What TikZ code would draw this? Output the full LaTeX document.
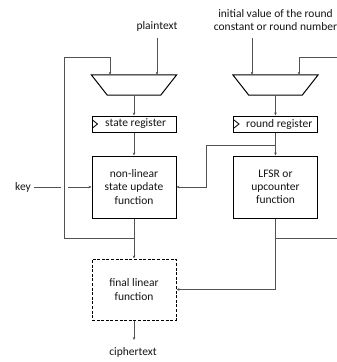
\documentclass[tikz,border=0pt]{standalone}
\usepackage{fontspec}
\setmainfont{Carlito}
\usetikzlibrary{arrows.meta}
\begin{document}
\begin{tikzpicture}[x=1pt,y=-1pt,
  font=\fontsize{11.5}{13.3}\selectfont,
  txt/.style={text=black!92, inner sep=0pt},
  blk/.style={draw=black, line width=1pt, minimum width=84pt, minimum height=62pt, inner sep=0pt, align=center, text=black!92},
  regbox/.style={draw=black, line width=1pt, minimum width=84pt, minimum height=16pt, inner sep=0pt},
  muxbox/.style={minimum width=85pt, minimum height=20pt, inner sep=0pt},
  conn/.style={draw=black!68, line width=0.8pt},
  arr/.style={conn, -{Stealth[length=3pt,width=2.6pt]}},
  clk/.style={draw=black, line width=0.8pt},
]
\useasboundingbox (0,0) rectangle (337,362);

% multiplexers
\node[muxbox] (muxL) at (134,85) {};
\node[muxbox] (muxR) at (275.5,85) {};
\foreach \m in {muxL,muxR}
  \draw[line width=1pt] (\m.north west) -- (\m.north east) -- ([xshift=-16pt]\m.south east) -- ([xshift=16pt]\m.south west) -- cycle;

% registers
\node[regbox] (sreg) at (134,124) {};
\node[txt, anchor=west] (sregt) at (105,124) {state register};
\node[regbox] (rreg) at (275.5,124) {};
\node[txt, anchor=west] (rregt) at (246,124) {round register};
\draw[clk] (sreg.west) ++(1,-4) -- ++(5,4) -- ++(-5,4);
\draw[clk] (rreg.west) ++(1,-4) -- ++(5,4) -- ++(-5,4);

% function blocks
\node[blk] (nl) at (134,187) {non-linear\\state update\\function};
\node[blk] (lfsr) at (275.5,187) {LFSR or\\upcounter\\function};
\node[blk, dash pattern=on 3pt off 1.6pt, minimum height=61pt] (fin) at (134,289.5) {final linear\\function};

% labels
\node[txt] (pt) at (157,26) {plaintext};
\node[txt, align=center] (iv) at (275.5,20) {initial value of the round\\constant or round number};
\node[txt] (key) at (23,187) {key};
\node[txt] (ct) at (133,352) {ciphertext};

% free ends
\coordinate (ptin) at (157,38);
\coordinate (ivin) at (252,38);
\coordinate (keyA) at (34,187);
\coordinate (keyB) at (61,187);
\coordinate (keyC) at (68,187);
\coordinate (ctout) at (134,340);
\coordinate (edgeL) at (337,238);
\coordinate (edgeT) at (337,57);

% connectors
\draw[arr] (ptin) -- (ptin |- muxL.north);
\draw[arr] (ivin) -- (ivin |- muxR.north);
\draw[arr] (nl.south |- 0,238) -- (64,238) -- (64,57) -- (110,57) -- (110,57 |- muxL.north);
\draw[conn] (lfsr.south |- 0,238) -- (edgeL);
\draw[arr] (edgeT) -- (299,57) -- (299,57 |- muxR.north);
\draw[arr] (muxL.south) -- (sreg.north);
\draw[arr] (sreg.south) -- (nl.north);
\draw[arr] (muxR.south) -- (rreg.north);
\draw[arr] (rreg.south) -- (lfsr.north);
\draw[arr] (rreg.south |- 0,145) -- (206,145) -- (206,187) -- (nl.east);
\draw[arr] (nl.south) -- (fin.north);
\draw[arr] (lfsr.south) -- (lfsr.south |- fin.east) -- (fin.east);
\draw[arr] (fin.south) -- (ctout);
\draw[conn] (keyA) -- (keyB);
\draw[arr] (keyC) -- (nl.west);
\end{tikzpicture}
\end{document}
